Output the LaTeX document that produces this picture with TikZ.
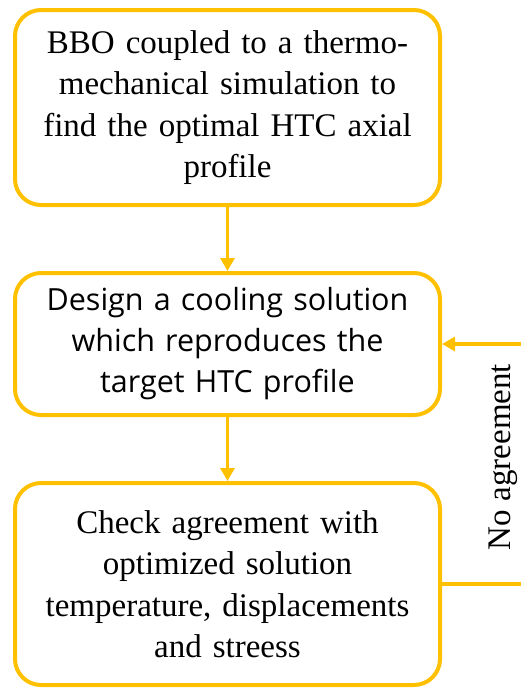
\documentclass[tikz,border=0pt]{standalone}
\usepackage{fontspec}
\setmainfont{Liberation Serif}
\newfontfamily\designfont{Open Sans}
\usetikzlibrary{positioning,arrows.meta}
\definecolor{boxgold}{HTML}{FFC000}

\begin{document}
\begin{tikzpicture}[x=1pt,y=-1pt,node distance=64pt,
    stepbox/.style={draw=boxgold,line width=4pt,rounded corners=26pt,
        minimum width=425pt,text width=405pt,align=center,
        font=\fontsize{33}{41.5}\selectfont},
    flow/.style={draw=boxgold,line width=3.5pt,-{Triangle[length=13pt,width=14pt]}}]
  \useasboundingbox (0,0) rectangle (521,689);
  \node[stepbox,minimum height=195pt] (bbo) at (227.5,107.5)
    {BBO coupled to a thermo-\\mechanical simulation to\\find the optimal HTC axial\\profile};
  \node[stepbox,minimum height=142pt,below=of bbo,
        font=\designfont\fontsize{30.5}{41}\selectfont] (design)
    {Design a cooling solution\\which reproduces the\\target HTC profile};
  \node[stepbox,minimum height=202pt,below=of design] (check)
    {Check agreement with\\optimized solution\\temperature, displacements\\and streess};
  \draw[flow] (bbo) -- (design);
  \draw[flow] (design) -- (check);
  \draw[flow] (check.east) -- ++(85,0) |- (design.east);
  \node[rotate=90,font=\fontsize{33}{40}\selectfont] (noagree) at (503,457) {No agreement};
\end{tikzpicture}
\end{document}
